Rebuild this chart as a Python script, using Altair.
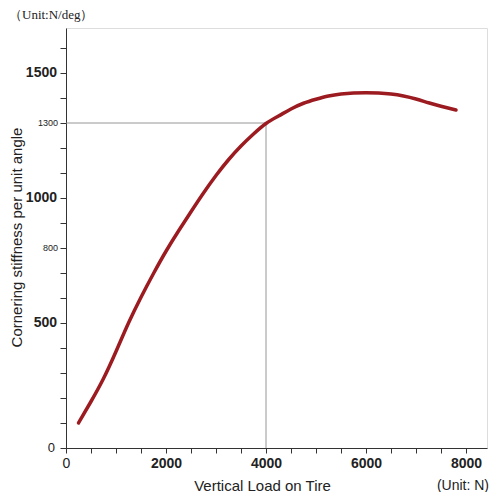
import altair as alt
import pandas as pd

# Curve data
loads = [250, 500, 750, 1000, 1250, 1500, 1750, 2000, 2250, 2500, 2750, 3000,
         3250, 3500, 3750, 4000, 4250, 4500, 4750, 5000, 5250, 5500, 5750,
         6000, 6250, 6500, 6750, 7000, 7250, 7500, 7800]
stiffness = [100, 186, 278, 386, 500, 603, 698, 787, 868, 945, 1020, 1090,
             1153, 1208, 1256, 1298, 1328, 1356, 1379, 1395, 1408, 1416, 1420,
             1421, 1420, 1416, 1408, 1396, 1381, 1367, 1352]

# Reference cross-hair
ref_load = [4000]
ref_value = [1300]

y_ticks = list(range(0, 1700, 100))
y_major_labels = [500, 1000, 1500]
y_minor_labels = [800, 1300]
y_zero_label = [0]
x_ticks = list(range(0, 8500, 500))
x_labels = [0, 2000, 4000, 6000, 8000]

df = pd.DataFrame({"load": loads, "cs": stiffness})
ref = pd.DataFrame({"load": ref_load, "value": ref_value, "zero": [0]})

LABEL_FONT = "Liberation Sans, Arial, sans-serif"
AX = "#333333"
TXT = "#222222"

x_lab_list = "[" + ",".join(str(v) for v in x_labels) + "]"

x_scale = alt.Scale(domain=[0, 8420], nice=False, zero=False)
y_scale = alt.Scale(domain=[0, 1680], nice=False)

x_axis = alt.Axis(
    values=x_ticks,
    tickCount=len(x_ticks) + 5,
    format="d",
    labelExpr=f"indexof({x_lab_list}, datum.value) >= 0 ? datum.label : ''",
    labelFont=LABEL_FONT,
    labelFontSize={"expr": f"indexof({x_lab_list}, datum.value) < 0 ? 1 : 14"},
    labelFontWeight={"expr": "datum.value == 0 ? 'normal' : 'bold'"},
    labelColor=TXT,
    labelPadding=3,
    labelFlush=False,
    labelOverlap=False,
    tickSize=5,
    tickColor=AX,
    domainColor=AX,
    grid=False,
    title="Vertical Load on Tire",
    titleFont=LABEL_FONT,
    titleFontSize=15,
    titleFontWeight="normal",
    titleColor=TXT,
    titleX=196,
    titleY=42,
    titleBaseline="alphabetic",
)

y_axis = alt.Axis(
    values=y_ticks,
    tickCount=len(y_ticks) + 5,
    labels=False,
    tickSize=6,
    tickColor=AX,
    domainColor=AX,
    grid=False,
    title="Cornering stiffness per unit angle",
    titleFont=LABEL_FONT,
    titleFontSize=15,
    titleFontWeight="normal",
    titleColor=TXT,
    titleAngle=270,
    titleX=-45,
    titleY=209,
    titleAlign="center",
    titleBaseline="alphabetic",
)

line = alt.Chart(df).mark_line(
    color="#9b1b20", strokeWidth=3.5, interpolate="natural", strokeCap="round"
).encode(
    x=alt.X("load:Q", scale=x_scale, axis=x_axis),
    y=alt.Y("cs:Q", scale=y_scale, axis=y_axis),
)

h_rule = alt.Chart(ref).mark_rule(color="#8a8a8a", strokeWidth=0.9).encode(
    x=alt.X("zero:Q", scale=x_scale),
    x2="load:Q",
    y=alt.Y("value:Q", scale=y_scale),
)
v_rule = alt.Chart(ref).mark_rule(color="#8a8a8a", strokeWidth=0.9).encode(
    x=alt.X("load:Q", scale=x_scale),
    y=alt.Y("zero:Q", scale=y_scale),
    y2="value:Q",
)


def y_label_layer(vals, size, weight, dx):
    return alt.Chart(pd.DataFrame({"v": vals})).mark_text(
        align="right", baseline="middle", font=LABEL_FONT, fontSize=size,
        fontWeight=weight, color=TXT
    ).encode(
        x=alt.value(dx),
        y=alt.Y("v:Q", scale=y_scale),
        text=alt.Text("v:Q", format="d"),
    )


lab_major = y_label_layer(y_major_labels, 14, "bold", -9)
lab_minor = y_label_layer(y_minor_labels, 9, "normal", -8)
lab_zero = y_label_layer(y_zero_label, 13, "normal", -11)

unit_y = alt.Chart(pd.DataFrame({"t": ["（Unit:N/deg）"]})).mark_text(
    align="left", baseline="alphabetic", font="Liberation Serif, DejaVu Serif, serif",
    fontSize=13, color=TXT
).encode(x=alt.value(-57), y=alt.value(-9), text="t:N")

unit_x = alt.Chart(pd.DataFrame({"t": ["(Unit: N)"]})).mark_text(
    align="right", baseline="alphabetic", font=LABEL_FONT,
    fontSize=14, color=TXT
).encode(x=alt.value(423), y=alt.value(462), text="t:N")

chart = alt.layer(h_rule, v_rule, line, lab_major, lab_minor, lab_zero, unit_y, unit_x).properties(
    width=421,
    height=420,
    autosize="none",
    padding={"left": 58, "top": 20, "right": 5, "bottom": 44},
).configure_view(stroke=None).configure(background="white")

chart.save("out.html", embed_options={"renderer": "svg", "actions": False})
